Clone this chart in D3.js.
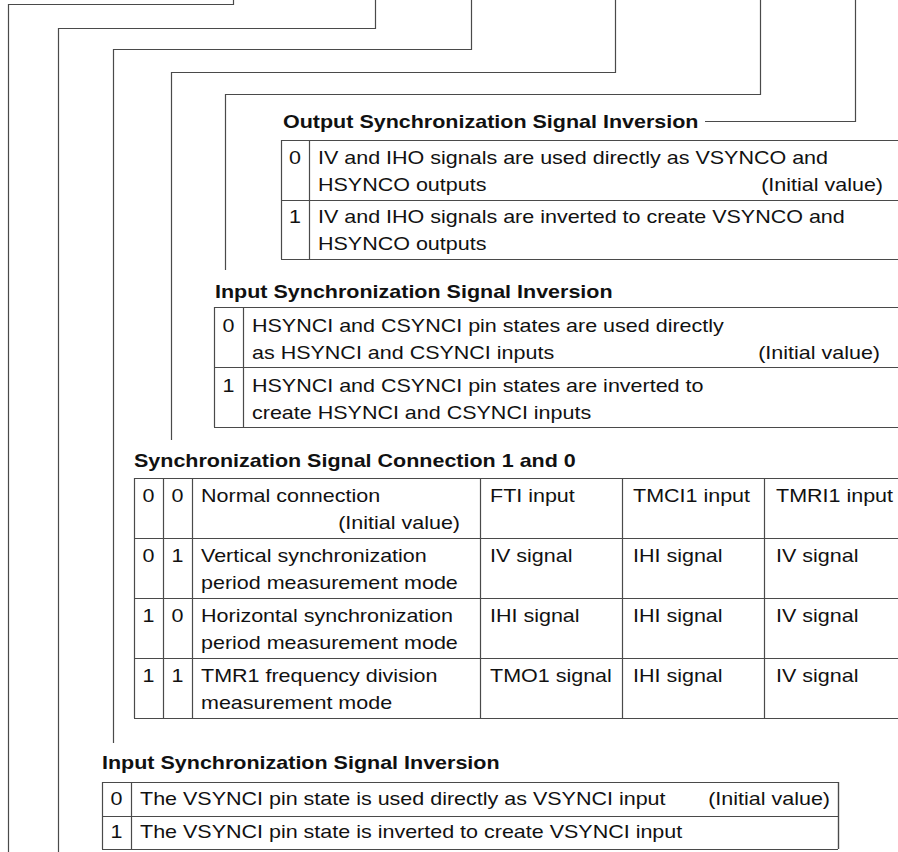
<!DOCTYPE html>
<html>
<head>
<meta charset="utf-8">
<script src="https://cdn.jsdelivr.net/npm/d3@7"></script>
<style>
  html, body { margin: 0; padding: 0; background: #fff; }
  svg { display: block; }
  text { font-family: "Liberation Sans", Arial, Helvetica, sans-serif; fill: #111; }
</style>
</head>
<body>
<svg id="chart" width="898" height="852"></svg>
<script>
// ---------- DATA ----------
const outTitle = "Output Synchronization Signal Inversion";
const outBits = ["0", "1"];
const outDesc = [
  ["IV and IHO signals are used directly as VSYNCO and", "HSYNCO outputs"],
  ["IV and IHO signals are inverted to create VSYNCO and", "HSYNCO outputs"]
];
const outInitial = [true, false];

const inHTitle = "Input Synchronization Signal Inversion";
const inHBits = ["0", "1"];
const inHDesc = [
  ["HSYNCI and CSYNCI pin states are used directly", "as HSYNCI and CSYNCI inputs"],
  ["HSYNCI and CSYNCI pin states are inverted to", "create HSYNCI and CSYNCI inputs"]
];
const inHInitial = [true, false];

const connTitle = "Synchronization Signal Connection 1 and 0";
const connBit1 = ["0", "0", "1", "1"];
const connBit0 = ["0", "1", "0", "1"];
const connMode = [
  ["Normal connection", ""],
  ["Vertical synchronization", "period measurement mode"],
  ["Horizontal synchronization", "period measurement mode"],
  ["TMR1 frequency division", "measurement mode"]
];
const connInitial = [true, false, false, false];
const connFTI = ["FTI input", "IV signal", "IHI signal", "TMO1 signal"];
const connTMCI = ["TMCI1 input", "IHI signal", "IHI signal", "IHI signal"];
const connTMRI = ["TMRI1 input", "IV signal", "IV signal", "IV signal"];

const inVTitle = "Input Synchronization Signal Inversion";
const inVBits = ["0", "1"];
const inVDesc = [
  "The VSYNCI pin state is used directly as VSYNCI input",
  "The VSYNCI pin state is inverted to create VSYNCI input"
];
const inVInitial = [true, false];
const initialLabel = "(Initial value)";

// ---------- LAYOUT ----------
const svg = d3.select("#chart");
const lineColor = "#4a4a4a";
const FS = 18.5;
const SX = 1.162;   // horizontal stretch of the reference type
const BASE = 6.5;   // baseline offset from line centre

function putText(g, x, y, t, opts = {}) {
  return g.append("text")
    .attr("transform", `translate(${x},${y}) scale(${SX},1)`)
    .attr("font-size", FS)
    .attr("font-weight", opts.bold ? "bold" : null)
    .attr("text-anchor", opts.anchor || "start")
    .text(t);
}

// leader lines
const leaders = [
  {xl: 8.5,   y: 4.5,  xr: 233.5, yb: 852},
  {xl: 58.5,  y: 28.5, xr: 375.5, yb: 852},
  {xl: 113.5, y: 49.5, xr: 471.5, yb: 743},
  {xl: 171.5, y: 72.5, xr: 615.5, yb: 440},
  {xl: 225.5, y: 94.5, xr: 760.5, yb: 270}
];
svg.append("g").selectAll("path").data(leaders).join("path")
  .attr("d", d => d3.line()([[d.xl, d.yb], [d.xl, d.y], [d.xr, d.y], [d.xr, 0]]))
  .attr("fill", "none").attr("stroke", lineColor).attr("stroke-width", 1.2);

svg.append("path")
  .attr("d", d3.line()([[705, 121.5], [855.5, 121.5], [855.5, 0]]))
  .attr("fill", "none").attr("stroke", lineColor).attr("stroke-width", 1.2);

function title(x, y, t) { putText(svg, x, y, t, {bold: true}); }

function drawTable(opt) {
  const g = svg.append("g");
  const n = opt.rows.length;
  const y = d3.scaleLinear().domain([0, n]).range([opt.top, opt.top + n * opt.rowH]);
  const xs = opt.cols;
  g.selectAll("line.h").data(d3.range(n + 1)).join("line")
    .attr("x1", xs[0]).attr("x2", opt.right)
    .attr("y1", d => Math.round(y(d)) + 0.5).attr("y2", d => Math.round(y(d)) + 0.5)
    .attr("stroke", lineColor).attr("stroke-width", 1.2);
  const vx = opt.closeRight ? xs.concat([opt.right]) : xs;
  g.selectAll("line.v").data(vx).join("line")
    .attr("x1", d => d + 0.5).attr("x2", d => d + 0.5)
    .attr("y1", y(0)).attr("y2", y(n))
    .attr("stroke", lineColor).attr("stroke-width", 1.2);
  opt.rows.forEach((row, i) => {
    row.forEach((cell, j) => {
      const lines = Array.isArray(cell.text) ? cell.text : [cell.text];
      lines.forEach((ln, k) => {
        if (!ln) return;
        const ty = y(i) + opt.lineY[k] + BASE;
        if (cell.center) putText(g, (xs[j] + xs[j + 1]) / 2, ty, ln, {anchor: "middle"});
        else putText(g, xs[j] + opt.padL[j], ty, ln);
      });
      if (cell.initial) {
        putText(g, cell.initialX, y(i) + opt.lineY[cell.initialLine] + BASE, initialLabel, {anchor: "end"});
      }
    });
  });
}

// Table 1
title(283, 128, outTitle);
drawTable({
  top: 140, rowH: 59.5, right: 900, cols: [281, 309, 900],
  padL: [0, 9], lineY: [17, 44],
  rows: outBits.map((b, i) => [
    {text: b, center: true},
    {text: outDesc[i], initial: outInitial[i], initialX: 883, initialLine: 1}
  ])
});

// Table 2
title(215, 298, inHTitle);
drawTable({
  top: 307, rowH: 60, right: 900, cols: [214, 243, 900],
  padL: [0, 9], lineY: [18, 45],
  rows: inHBits.map((b, i) => [
    {text: b, center: true},
    {text: inHDesc[i], initial: inHInitial[i], initialX: 880, initialLine: 1}
  ])
});

// Table 3
title(134, 467, connTitle);
drawTable({
  top: 478, rowH: 60, right: 900, cols: [134, 163, 192, 480, 622, 764, 900],
  padL: [0, 0, 9, 10, 11, 12], lineY: [17, 44],
  rows: connMode.map((m, i) => [
    {text: connBit1[i], center: true},
    {text: connBit0[i], center: true},
    {text: m, initial: connInitial[i], initialX: 460, initialLine: 1},
    {text: connFTI[i]},
    {text: connTMCI[i]},
    {text: connTMRI[i]}
  ])
});

// Table 4
title(102, 769, inVTitle);
drawTable({
  top: 782, rowH: 33.5, right: 838, closeRight: true, cols: [102, 131, 838],
  padL: [0, 9], lineY: [16],
  rows: inVBits.map((b, i) => [
    {text: b, center: true},
    {text: inVDesc[i], initial: inVInitial[i], initialX: 830, initialLine: 0}
  ])
});
</script>
</body>
</html>
